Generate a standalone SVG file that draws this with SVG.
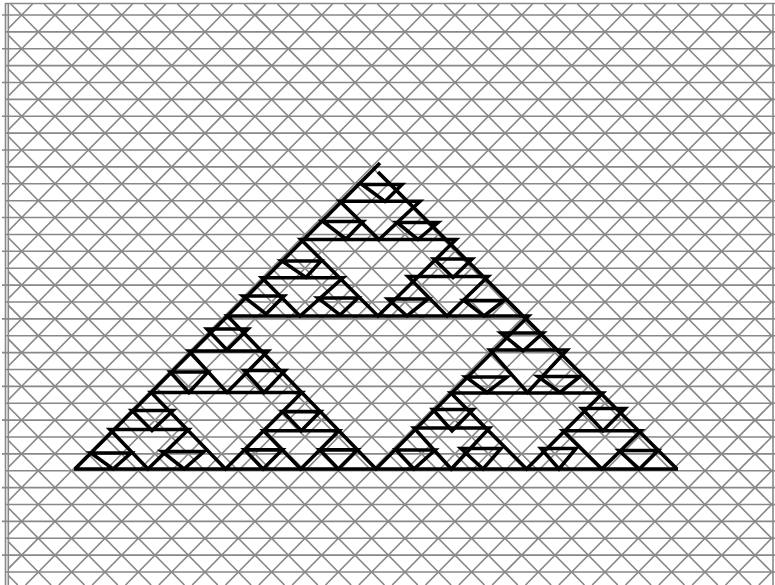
<svg xmlns="http://www.w3.org/2000/svg" width="775" height="585" viewBox="0 0 775 585">
<style>
.g{fill:none;stroke:#888;stroke-width:1.6}
.k{fill:none;stroke:#000;stroke-width:3.6;stroke-linejoin:miter}
</style>
<defs>
<clipPath id="area"><rect x="8" y="4" width="765" height="581"/></clipPath>
</defs>
<rect width="775" height="585" fill="#fff"/>
<g id="grid">
<g clip-path="url(#area)">
<path class="g" d="M-555.86,4 l573.66,581 m-540.327,-581 l573.66,581 m-540.327,-581 l573.66,581 m-540.327,-581 l573.66,581 m-540.327,-581 l573.66,581 m-540.327,-581 l573.66,581 m-540.327,-581 l573.66,581 m-540.327,-581 l573.66,581 m-540.327,-581 l573.66,581 m-540.327,-581 l573.66,581 m-540.327,-581 l573.66,581 m-540.327,-581 l573.66,581 m-540.327,-581 l573.66,581 m-540.327,-581 l573.66,581 m-540.327,-581 l573.66,581 m-540.327,-581 l573.66,581 m-540.327,-581 l573.66,581 m-540.327,-581 l573.66,581 m-540.327,-581 l573.66,581 m-540.327,-581 l573.66,581 m-540.327,-581 l573.66,581 m-540.327,-581 l573.66,581 m-540.327,-581 l573.66,581 m-540.327,-581 l573.66,581 m-540.327,-581 l573.66,581 m-540.327,-581 l573.66,581 m-540.327,-581 l573.66,581 m-540.327,-581 l573.66,581 m-540.327,-581 l573.66,581 m-540.327,-581 l573.66,581 m-540.327,-581 l573.66,581 m-540.327,-581 l573.66,581 m-540.327,-581 l573.66,581 m-540.327,-581 l573.66,581 m-540.327,-581 l573.66,581 m-540.327,-581 l573.66,581 m-540.327,-581 l573.66,581 m-540.327,-581 l573.66,581 m-540.327,-581 l573.66,581 m-540.327,-581 l573.66,581"/>
<path class="g" d="M32.528,4 l-573.66,581 m606.993,-581 l-573.66,581 m606.993,-581 l-573.66,581 m606.993,-581 l-573.66,581 m606.993,-581 l-573.66,581 m606.993,-581 l-573.66,581 m606.993,-581 l-573.66,581 m606.993,-581 l-573.66,581 m606.993,-581 l-573.66,581 m606.993,-581 l-573.66,581 m606.993,-581 l-573.66,581 m606.993,-581 l-573.66,581 m606.993,-581 l-573.66,581 m606.993,-581 l-573.66,581 m606.993,-581 l-573.66,581 m606.993,-581 l-573.66,581 m606.993,-581 l-573.66,581 m606.993,-581 l-573.66,581 m606.993,-581 l-573.66,581 m606.993,-581 l-573.66,581 m606.993,-581 l-573.66,581 m606.993,-581 l-573.66,581 m606.993,-581 l-573.66,581 m606.993,-581 l-573.66,581 m606.993,-581 l-573.66,581 m606.993,-581 l-573.66,581 m606.993,-581 l-573.66,581 m606.993,-581 l-573.66,581 m606.993,-581 l-573.66,581 m606.993,-581 l-573.66,581 m606.993,-581 l-573.66,581 m606.993,-581 l-573.66,581 m606.993,-581 l-573.66,581 m606.993,-581 l-573.66,581 m606.993,-581 l-573.66,581 m606.993,-581 l-573.66,581 m606.993,-581 l-573.66,581 m606.993,-581 l-573.66,581 m606.993,-581 l-573.66,581 m606.993,-581 l-573.66,581"/>
</g>
<path class="g" d="M2,15H775 M2,48.76H775 M2,82.52H775 M2,116.28H775 M2,150.04H775 M2,183.8H775 M2,217.56H775 M2,251.32H775 M2,285.08H775 M2,318.84H775 M2,352.6H775 M2,386.36H775 M2,420.12H775 M2,453.88H775 M2,487.64H775 M2,521.4H775 M2,555.16H775"/>
<path class="g" d="M5,31.88H775 M5,65.64H775 M5,99.4H775 M5,133.16H775 M5,166.92H775 M5,200.68H775 M5,234.44H775 M5,268.2H775 M5,301.96H775 M5,335.72H775 M5,369.48H775 M5,403.24H775 M5,437H775 M5,470.76H775 M5,504.52H775 M5,538.28H775 M5,572.04H775"/>
<path class="g" d="M5,3.5H775 M5.5,3V585 M8.3,3V585 M773,3V585"/>
</g>
<g id="sierpinski">
<path class="k" d="M75,469 L380,163 M378,172 L677,469 M74,469 H678"/>
<path class="k" d="M227.5,316 H528.5 L376,469 Z"/>
<path class="k" d="M301,239.5 H456 L378,316 Z M151.25,392.5 H301.75 L225.5,469 Z M451,393 H602.75 L526.5,469 Z"/>
<path class="k" d="M340,201.25 H420 L379,239.5 Z M262,277.75 H343 L300,316 Z M408,276.5 H488 L447,316 Z M189,351 H268 L227,392.5 Z M110,429.5 H188.4 L148,469 Z M263.6,430.75 H338.9 L300.75,469 Z M490,350 H567 L527.5,392.5 Z M414.1,428 H489.4 L451.25,469 Z M563,430.75 H641 L601.75,469 Z"/>
<path class="k" d="M362,184.5 H402 L385,201.5 Z M323,221.5 H363 L346,239 Z M397,222.5 H438 L418,239.5 Z M282,261 H321 L306,277.5 Z M243,296 H284 L266,314 Z M318,298 H358 L340,315 Z M434,259 H472 L453,277.5 Z M388,299 H428 L407,316 Z M464,300.5 H504 L484,316 Z M207,329 H248 L227,350 Z M170.3,372 H207.9 L188.9,392.5 Z M244,370.5 H285 L264,392.5 Z M132,410.5 H173 L152,430.5 Z M91,453 H131 L113,469 Z M162,451.5 H204 L184,469 Z M282.7,411.6 H320.3 L301.25,430.75 Z M244.56,449.88 H282.19 L263.1,469 Z M319.8,449.88 H357.4 L338.4,469 Z M501,333 H543 L523,351 Z M466,377 H507 L487,392.5 Z M538,376.5 H580 L560,392.5 Z M433,409.5 H473 L452,430.75 Z M396,450 H435 L414,469 Z M461,448.5 H501 L483,469 Z M582,408.5 H625 L603,430.75 Z M541,448.5 H576 L559,469 Z M619,450.5 H658 L639.4,469 Z"/>
</g>
</svg>
